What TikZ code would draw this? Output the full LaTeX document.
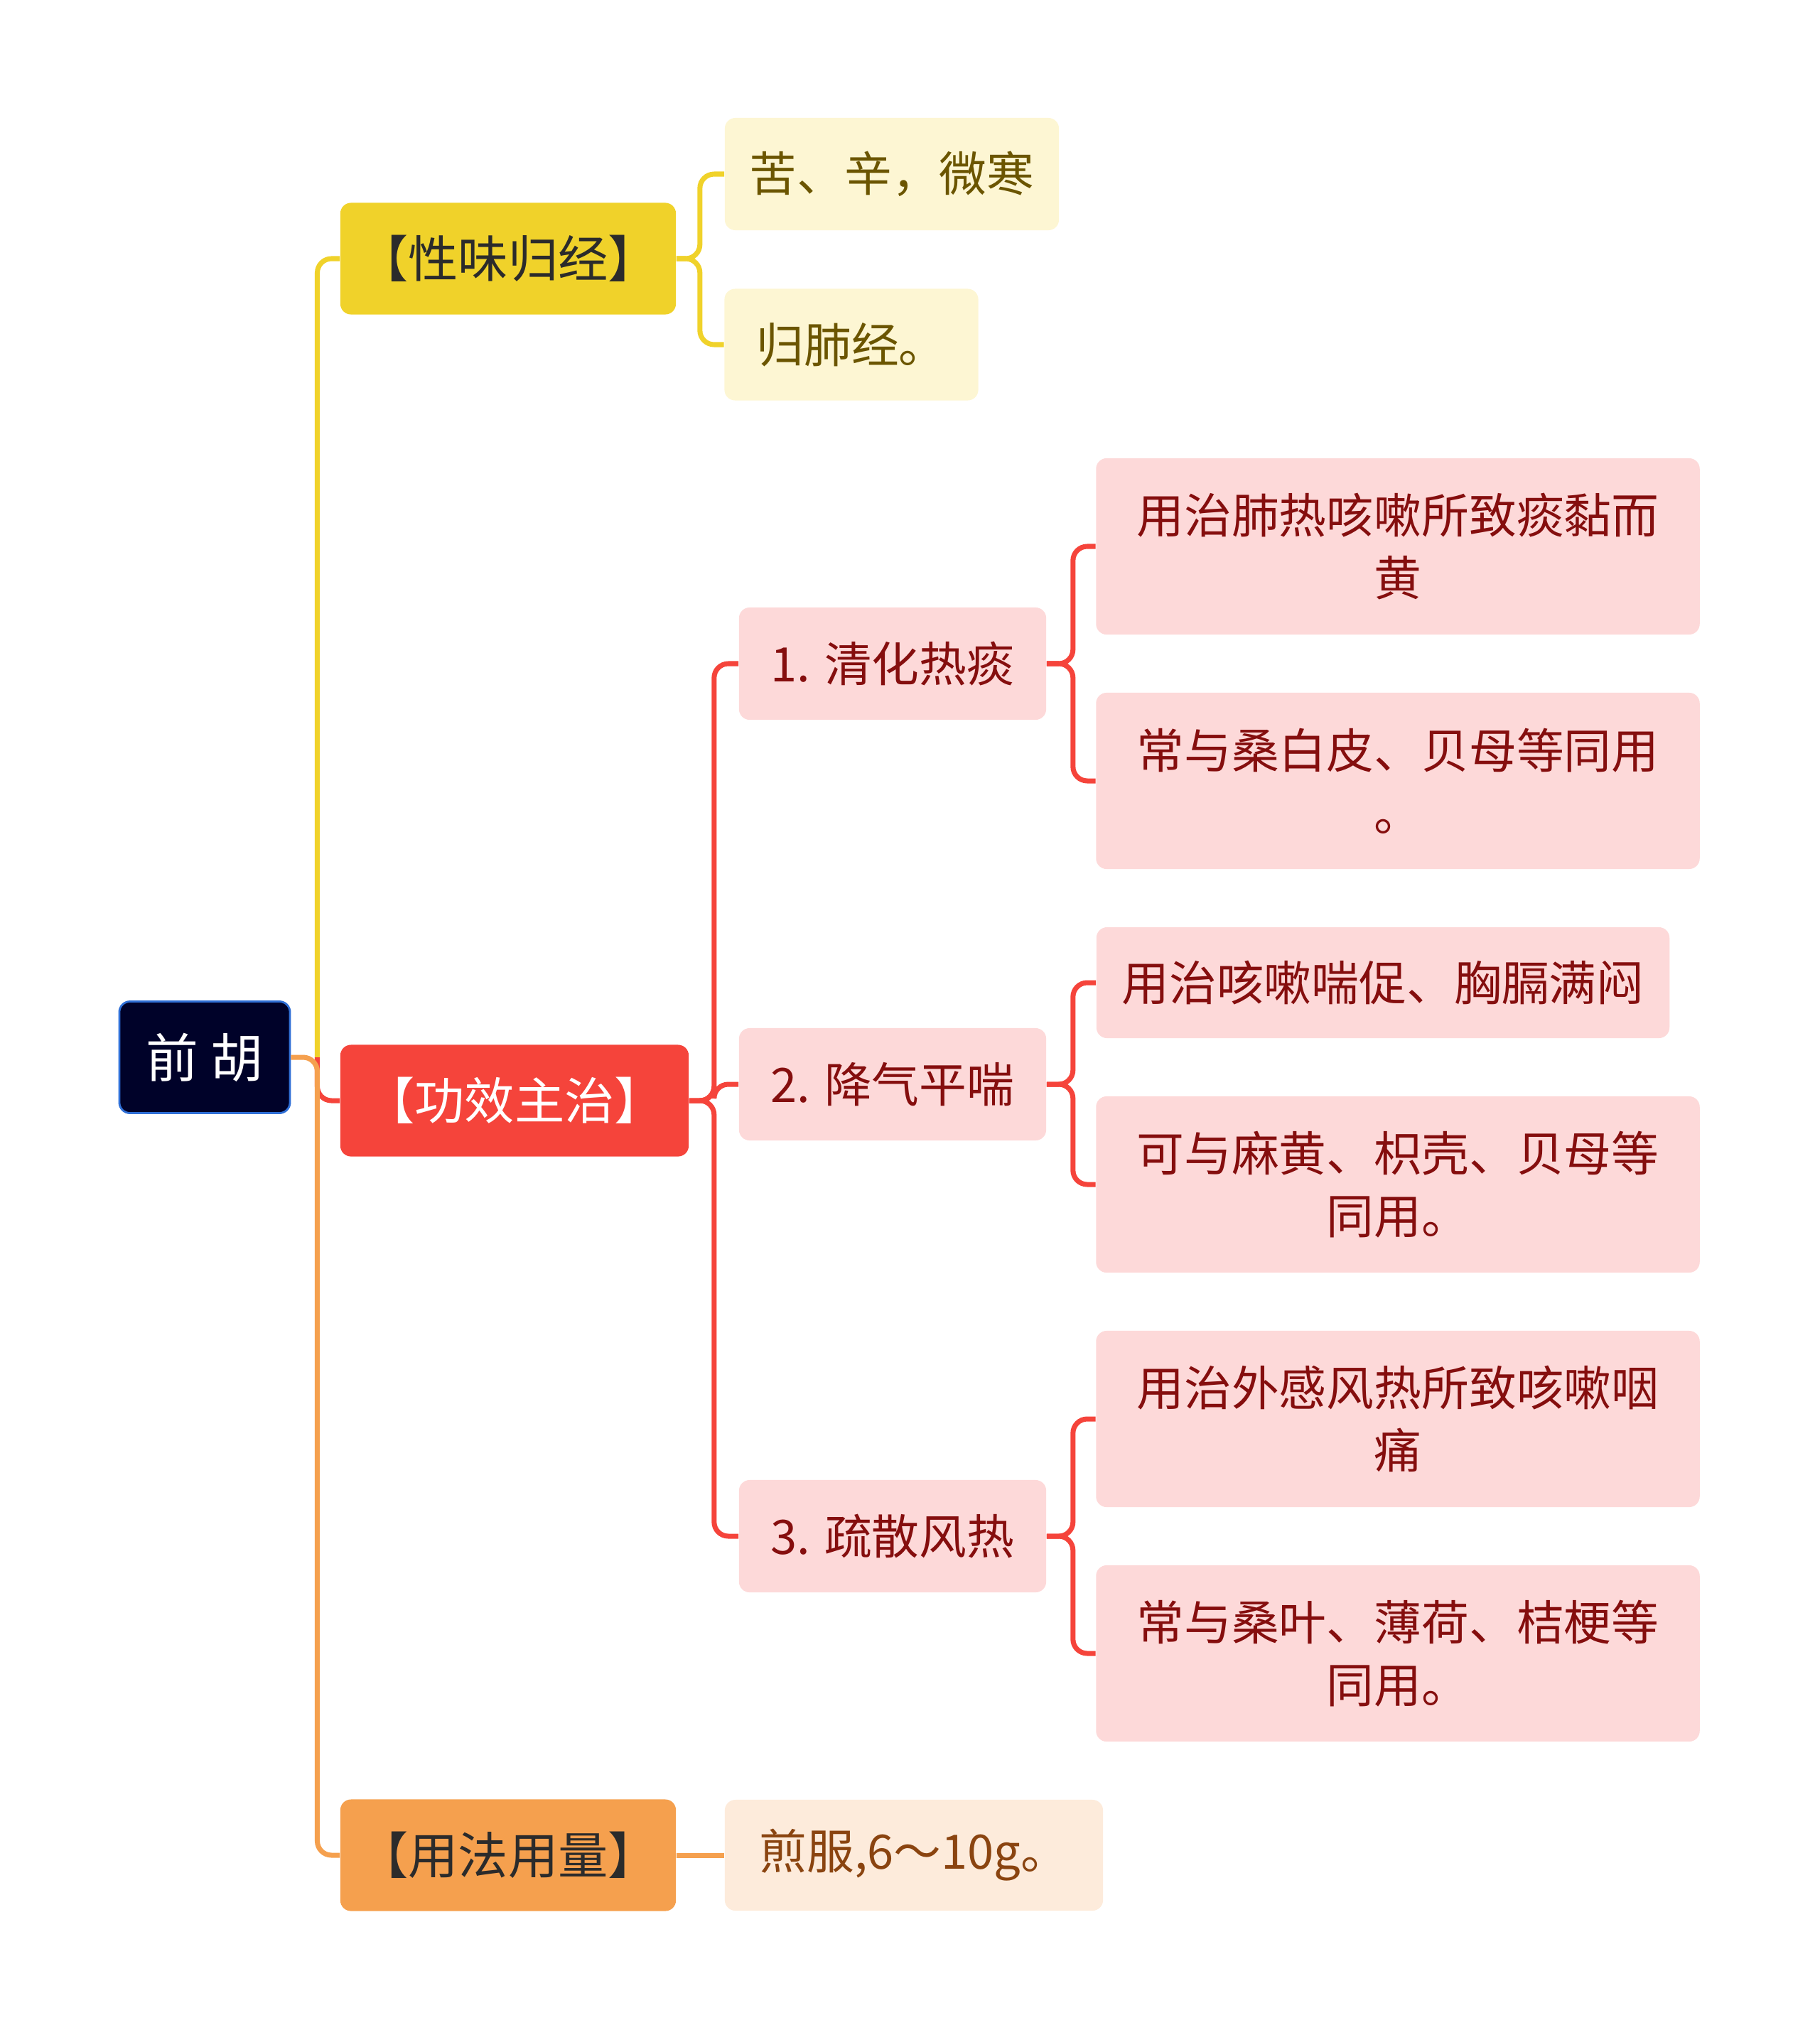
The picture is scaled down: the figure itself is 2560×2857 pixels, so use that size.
\documentclass[tikz,border=0pt]{standalone}
\usepackage{fontspec}
\setmainfont{Noto Sans CJK SC}
\usetikzlibrary{positioning,calc}

\definecolor{rootfill}{HTML}{000229}
\definecolor{rootedge}{HTML}{2F6FD6}
\definecolor{yel}{HTML}{F0D22A}
\definecolor{yellight}{HTML}{FDF6D3}
\definecolor{yeltext}{HTML}{6B5500}
\definecolor{red}{HTML}{F5443B}
\definecolor{redlight}{HTML}{FDD9D9}
\definecolor{redtext}{HTML}{850E0E}
\definecolor{ora}{HTML}{F5A04E}
\definecolor{oralight}{HTML}{FDEBDB}
\definecolor{oratext}{HTML}{8A4410}
\definecolor{darktext}{HTML}{2B2B2B}

\begin{document}
\begin{tikzpicture}[
  x=0.01cm, y=-0.01cm,
  base/.style={rounded corners=0.15cm, align=center, inner sep=0pt,
    font=\fontsize{19}{25}\selectfont},
  box/.style 2 args={minimum width=#1cm, minimum height=#2cm},
  rootnode/.style={base, fill=rootfill, draw=rootedge, line width=0.8pt, text=white,
    font=\fontsize{21}{25}\selectfont},
  yelmain/.style={base, fill=yel, text=darktext, font=\fontsize{20}{25}\selectfont},
  yelleaf/.style={base, fill=yellight, text=yeltext},
  redmain/.style={base, fill=red, text=white, font=\fontsize{20}{25}\selectfont},
  redleaf/.style={base, fill=redlight, text=redtext},
  oramain/.style={base, fill=ora, text=darktext, font=\fontsize{20}{25}\selectfont},
  oraleaf/.style={base, fill=oralight, text=oratext},
  link/.style={line width=2pt, rounded corners=0.2cm}
]
  \useasboundingbox (0,0) rectangle (2560,2857);

  % root and first level
  \node[rootnode, box={2.40}{1.57}] (root) at (288,1488) {前 胡};
  \node[yelmain, box={4.72}{1.57}] (xing) at (715,364) {【性味归经】};
  \node[redmain, box={4.90}{1.57}] (gong) at (724,1549) {【功效主治】};
  \node[oramain, box={4.72}{1.57}] (yong) at (715,2611) {【用法用量】};

  % second level
  \node[yelleaf, box={4.70}{1.58}] (kuxin) at (1255,245) {苦、辛，微寒};
  \node[yelleaf, box={3.57}{1.57}] (guifei) at (1198,485) {归肺经。};
  \node[redleaf, box={4.32}{1.58}] (qing) at (1256,934) {1. 清化热痰};
  \node[redleaf, box={4.32}{1.58}] (jiang) at (1256,1526) {2. 降气平喘};
  \node[redleaf, box={4.32}{1.58}] (shu) at (1256,2162) {3. 疏散风热};
  \node[oraleaf, box={5.32}{1.56}] (jianfu) at (1286,2611) {煎服,6～10g。};

  % leaves
  \node[redleaf, box={8.49}{2.48}] (qinga) at (1967,769) {用治肺热咳嗽所致痰黏而\\黄};
  \node[redleaf, box={8.49}{2.48}] (qingb) at (1967,1099) {常与桑白皮、贝母等同用\\。};
  \node[redleaf, box={8.06}{1.56}] (jianga) at (1946,1383) {用治咳嗽喘促、胸膈满闷};
  \node[redleaf, box={8.49}{2.48}] (jiangb) at (1967,1667) {可与麻黄、枳壳、贝母等\\同用。};
  \node[redleaf, box={8.49}{2.48}] (shua) at (1967,1997) {用治外感风热所致咳嗽咽\\痛};
  \node[redleaf, box={8.49}{2.48}] (shub) at (1967,2327) {常与桑叶、薄荷、桔梗等\\同用。};

  % root branches
  \coordinate (trunk) at ($(root.east)+(37,0)$);
  \draw[link, yel] (trunk) |- (xing.west);
  \draw[link, red] (trunk) |- (gong.west);
  \draw[link, ora] (root.east) -- (trunk) |- (yong.west);

  % first level branches
  \foreach \to in {kuxin, guifei}
    \draw[link, yel] (xing.east) -- ++(33,0) |- (\to.west);
  \foreach \to in {qing, jiang, shu}
    \draw[link, red] (gong.east) -- ++(35,0) |- (\to.west);
  \draw[link, ora] (yong) -- (jianfu);

  % second level branches
  \foreach \from/\to in {qing/qinga, qing/qingb, jiang/jianga, jiang/jiangb, shu/shua, shu/shub}
    \draw[link, red] (\from.east) -- ++(37,0) |- (\to.west);
\end{tikzpicture}
\end{document}
